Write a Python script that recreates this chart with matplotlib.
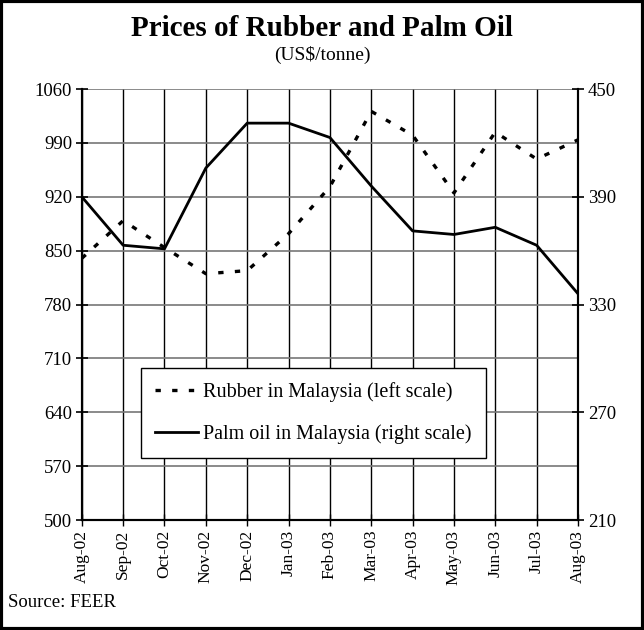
import matplotlib.pyplot as plt
from matplotlib.patches import Rectangle

plt.rcParams['font.family'] = ['Liberation Serif', 'DejaVu Serif']

months = ['Aug-02', 'Sep-02', 'Oct-02', 'Nov-02', 'Dec-02', 'Jan-03', 'Feb-03',
          'Mar-03', 'Apr-03', 'May-03', 'Jun-03', 'Jul-03', 'Aug-03']
rubber = [840, 889, 854, 820, 824, 872, 933, 1031, 1000, 925, 1004, 969, 994]
palm_oil = [390, 363, 361, 406, 431, 431, 423, 396, 371, 369, 373, 363, 336]

left_ticks = [500, 570, 640, 710, 780, 850, 920, 990, 1060]
right_ticks = [210, 270, 330, 390, 450]

fig = plt.figure(figsize=(6.44, 6.3), dpi=100)
ax = fig.add_axes([0.127, 0.1746, 0.7705, 0.6841])
ax2 = ax.twinx()

x = list(range(len(months)))

ax.set_xlim(0, len(months) - 1)
ax.set_ylim(500, 1060)
ax2.set_ylim(210, 450)
ax.set_yticks(left_ticks)
ax2.set_yticks(right_ticks)
ax.set_xticks(x)
ax.set_xticklabels(months, rotation=90, fontsize=12.5)
ax.tick_params(axis='y', labelsize=13.5, direction='inout', length=8, width=1.2, pad=3)
ax.tick_params(axis='x', direction='inout', length=8, width=1, pad=3)
ax2.tick_params(axis='y', labelsize=13.5, direction='inout', length=8, width=1.2, pad=3)

ax.grid(axis='y', color='#777777', linewidth=1.2)
ax.grid(axis='x', color='black', linewidth=1)
ax.set_axisbelow(True)

for a in (ax, ax2):
    a.spines['top'].set_visible(False)
    for s in ('left', 'right', 'bottom'):
        a.spines[s].set_linewidth(1.5)

l1, = ax.plot(x, rubber, color='black', linewidth=2.4, linestyle=(0, (1.6, 3.4)),
              label='Rubber in Malaysia (left scale)')
l2, = ax2.plot(x, palm_oil, color='black', linewidth=2,
               label='Palm oil in Malaysia (right scale)')

leg = ax2.legend(handles=[l1, l2], loc='upper left', bbox_to_anchor=(0.119, 0.353),
                 fontsize=14.5, frameon=True, fancybox=False,
                 edgecolor='black', framealpha=1, handlelength=2.15, labelspacing=1.1,
                 borderpad=0.7, handletextpad=0.25, borderaxespad=0)
leg.get_frame().set_linewidth(1)

fig.text(0.5, 0.955, 'Prices of Rubber and Palm Oil', ha='center', va='center',
         fontsize=21, fontweight='bold')
fig.text(0.5, 0.912, '(US$/tonne)', ha='center', va='center', fontsize=14)
fig.text(0.012, 0.043, 'Source: FEER', ha='left', va='center', fontsize=13.5)

fig.patches.append(Rectangle((0.002, 0.002), 0.996, 0.996, transform=fig.transFigure,
                             fill=False, edgecolor='black', linewidth=3))

fig.savefig('out.png', dpi=100)
